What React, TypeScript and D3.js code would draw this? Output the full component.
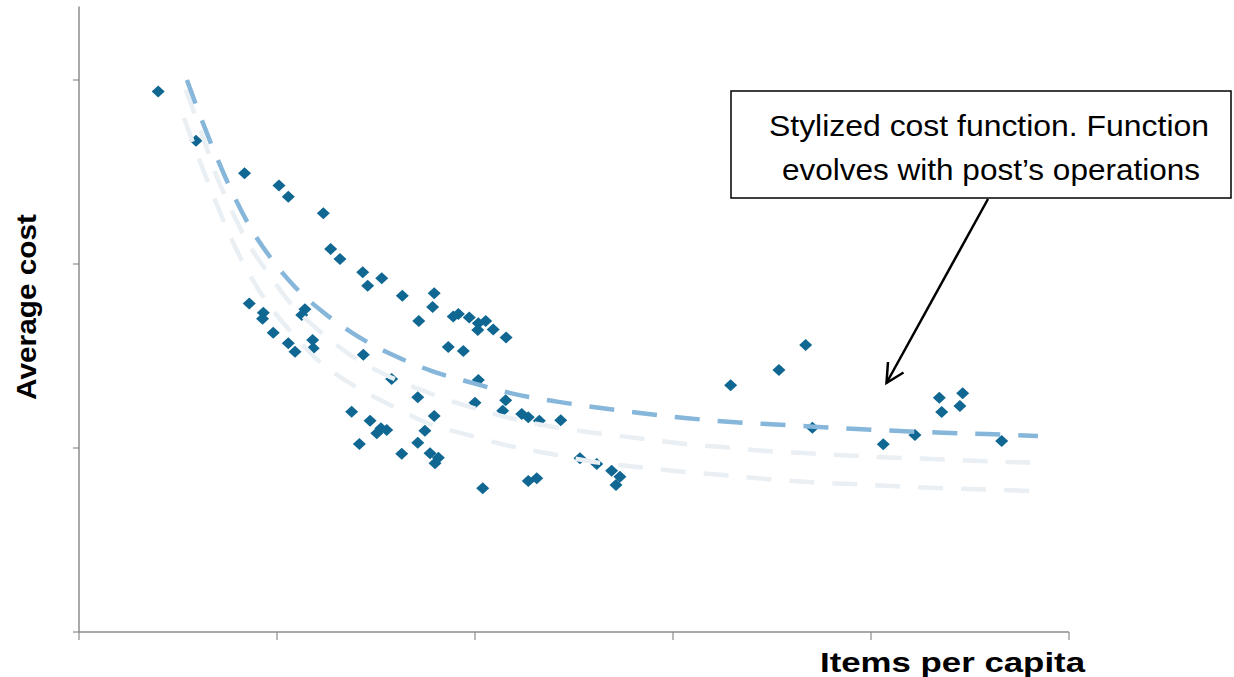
import React from "react";
import * as d3 from "d3";

// Observed (items per capita, average cost) pairs — arbitrary units
const pointX = [
  0.400, 0.591, 0.836, 1.010, 1.057, 1.234, 1.271, 1.318, 1.433, 1.529,
  1.458, 1.633, 1.794, 1.786, 1.716, 1.890, 1.916, 1.971, 2.017, 2.054,
  2.014, 2.092, 2.157, 1.865, 1.941, 0.860, 0.931, 0.927, 1.141, 1.125,
  0.981, 1.057, 1.091, 1.180, 1.183, 1.436, 1.579, 2.017, 1.711, 2.000,
  2.155, 2.140, 2.236, 2.269, 2.325, 2.433, 1.377, 1.470, 1.525, 1.554,
  1.504, 1.794, 1.747, 1.711, 1.416, 1.630, 1.773, 1.815, 1.798, 2.039,
  2.269, 2.312, 2.530, 2.615, 2.690, 2.732, 2.712, 3.291, 3.535, 3.670,
  3.704, 4.062, 4.222, 4.345, 4.463, 4.357, 4.449, 4.660,
];
const pointY = [
  2.938, 2.670, 2.493, 2.426, 2.366, 2.276, 2.082, 2.027, 1.955, 1.922,
  1.882, 1.828, 1.841, 1.766, 1.690, 1.714, 1.728, 1.709, 1.678, 1.690,
  1.641, 1.644, 1.601, 1.549, 1.527, 1.785, 1.735, 1.703, 1.754, 1.723,
  1.627, 1.569, 1.523, 1.587, 1.542, 1.507, 1.375, 1.370, 1.276, 1.246,
  1.259, 1.203, 1.185, 1.167, 1.148, 1.151, 1.197, 1.148, 1.107, 1.098,
  1.080, 1.174, 1.094, 1.029, 1.022, 0.969, 0.971, 0.947, 0.917, 0.781,
  0.821, 0.835, 0.944, 0.913, 0.877, 0.844, 0.799, 1.341, 1.424, 1.560,
  1.110, 1.020, 1.071, 1.273, 1.297, 1.196, 1.228, 1.038,
];

// Stylized cost curves
const curveMainX = [0.545, 0.626, 0.697, 0.773, 0.879, 0.965, 1.091, 1.232, 1.404, 1.586, 1.783, 1.990, 2.202, 2.414, 2.626, 2.843, 3.061, 3.278, 3.495, 3.712, 3.929, 4.146, 4.364, 4.581, 4.843];
const curveMainY = [3.000, 2.766, 2.576, 2.391, 2.174, 2.038, 1.875, 1.739, 1.609, 1.505, 1.418, 1.353, 1.293, 1.252, 1.219, 1.189, 1.163, 1.143, 1.129, 1.116, 1.103, 1.092, 1.083, 1.076, 1.065];

const curveMidX = [0.540, 0.626, 0.687, 0.763, 0.848, 0.955, 1.076, 1.227, 1.394, 1.571, 1.768, 1.975, 2.177, 2.394, 2.606, 2.818, 3.061, 3.253, 3.470, 3.687, 3.904, 4.121, 4.338, 4.551, 4.803];
const curveMidY = [2.946, 2.690, 2.500, 2.310, 2.125, 1.951, 1.777, 1.625, 1.489, 1.386, 1.299, 1.223, 1.163, 1.114, 1.082, 1.054, 1.022, 1.005, 0.984, 0.971, 0.958, 0.947, 0.939, 0.929, 0.921];

const curveLowX = [0.530, 0.616, 0.687, 0.763, 0.848, 0.949, 1.076, 1.217, 1.384, 1.571, 1.758, 1.965, 2.177, 2.389, 2.601, 2.818, 3.061, 3.253, 3.465, 3.682, 3.899, 4.111, 4.333, 4.545, 4.803];
const curveLowY = [2.793, 2.543, 2.348, 2.152, 1.967, 1.793, 1.625, 1.467, 1.342, 1.234, 1.136, 1.071, 1.011, 0.967, 0.924, 0.897, 0.870, 0.853, 0.832, 0.815, 0.804, 0.793, 0.783, 0.776, 0.766];

const xTicks = [0, 1, 2, 3, 4, 5];
const yTicks = [0, 1, 2, 3];

const xTitle = "Items per capita";
const yTitle = "Average cost";
const calloutLines = ["Stylized cost function. Function", "evolves with post\u2019s operations"];

export default function App() {
  const x = d3.scaleLinear().domain([0, 5]).range([79, 1069]);
  const y = d3.scaleLinear().domain([0, 3.4]).range([632, 6.4]);

  const line = d3
    .line<[number, number]>()
    .x((d) => x(d[0]))
    .y((d) => y(d[1]))
    .curve(d3.curveMonotoneX);

  const zip = (a: number[], b: number[]) => a.map((v, i) => [v, b[i]] as [number, number]);

  const axisColor = "#8c8c8c";
  const diamond = "M0,-6L6.5,0L0,6L-6.5,0Z";

  return (
    <svg
      width={1234}
      height={677}
      style={{ position: "absolute", left: 0, top: 0, background: "#fff" }}
      fontFamily="'Liberation Sans', Arial, sans-serif"
    >
      <rect x={0} y={0} width={1234} height={677} fill="#fff" />
      {/* axes */}
      <line x1={x(0)} x2={x(0)} y1={y(3.4)} y2={y(0)} stroke={axisColor} strokeWidth={1.5} />
      <line x1={x(0)} x2={x(5)} y1={y(0)} y2={y(0)} stroke={axisColor} strokeWidth={1.5} />
      {yTicks.map((t) => (
        <line key={"yt" + t} x1={x(0) - 6} x2={x(0)} y1={y(t)} y2={y(t)} stroke={axisColor} strokeWidth={1.2} />
      ))}
      {xTicks.map((t) => (
        <line key={"xt" + t} x1={x(t)} x2={x(t)} y1={y(0)} y2={y(0) + 8} stroke={axisColor} strokeWidth={1.2} />
      ))}

      {/* points */}
      {pointX.map((px, i) => (
        <path key={"p" + i} d={diamond} transform={`translate(${x(px)},${y(pointY[i])})`} fill="#0f6792" />
      ))}

      {/* curves */}
      <path d={line(zip(curveLowX, curveLowY)) || ""} fill="none" stroke="#eaeff4" strokeWidth={4.5} strokeDasharray="25,18" />
      <path d={line(zip(curveMidX, curveMidY)) || ""} fill="none" stroke="#eaeff4" strokeWidth={4.5} strokeDasharray="25,18" />
      <path d={line(zip(curveMainX, curveMainY)) || ""} fill="none" stroke="#86b6da" strokeWidth={4.5} strokeDasharray="25,18" />

      {/* callout */}
      <rect x={731} y={91} width={500} height={107} fill="#fff" stroke="#000" strokeWidth={1.5} />
      <text x={769} y={136} fontSize={30} fill="#000" textLength={440} lengthAdjust="spacingAndGlyphs">
        {calloutLines[0]}
      </text>
      <text x={782} y={180} fontSize={30} fill="#000" textLength={418} lengthAdjust="spacingAndGlyphs">
        {calloutLines[1]}
      </text>
      <line x1={988} y1={199} x2={886.5} y2={383} stroke="#000" strokeWidth={2.5} />
      <polyline points="888,362 886.5,383 903.5,372.5" fill="none" stroke="#000" strokeWidth={2.5} />

      {/* axis titles */}
      <text x={820} y={672} fontSize={28} fontWeight="bold" fill="#000" textLength={265} lengthAdjust="spacingAndGlyphs">
        {xTitle}
      </text>
      <text
        transform="translate(36,307) rotate(-90)"
        textAnchor="middle"
        fontSize={28}
        fontWeight="bold"
        fill="#000"
        textLength={186}
        lengthAdjust="spacingAndGlyphs"
      >
        {yTitle}
      </text>
    </svg>
  );
}
